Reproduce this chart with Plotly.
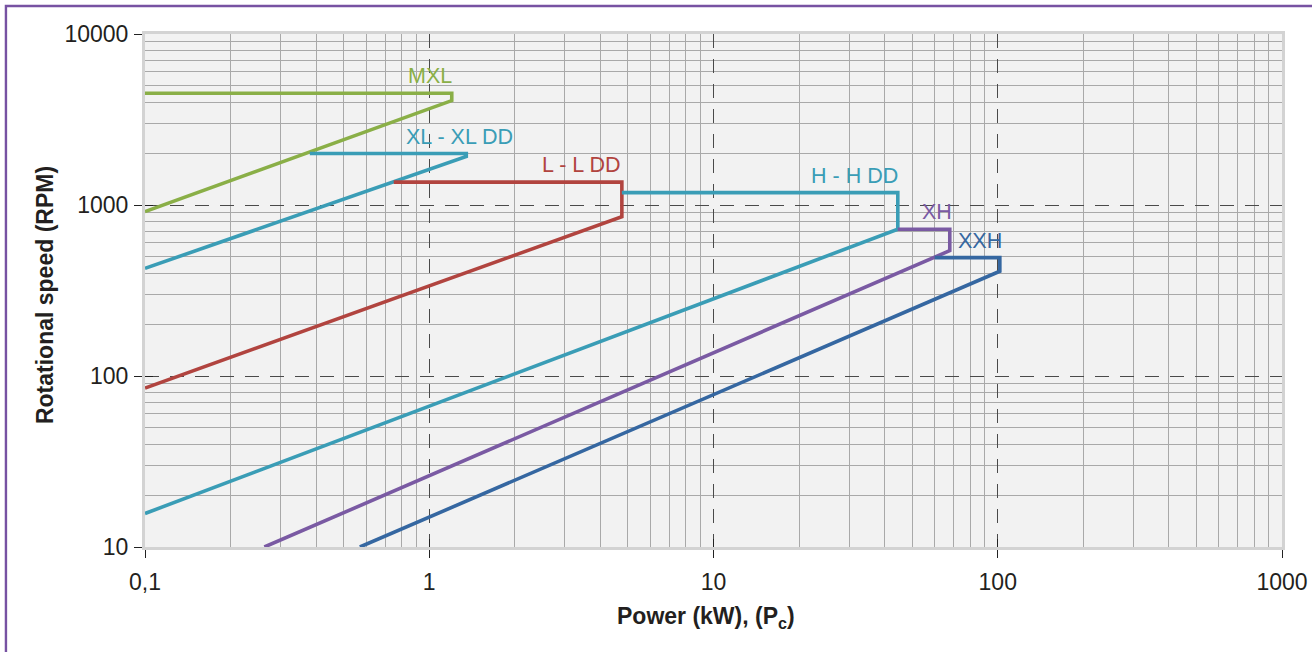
import numpy as np
import plotly.graph_objects as go

# ---------------- data ----------------
belts = ["MXL", "XL - XL DD", "L - L DD", "H - H DD", "XH", "XXH"]
colors = ["#8aaf47", "#3a9db6", "#b1443f", "#3a9db6", "#7a5aa3", "#3567a1"]

# each belt limit curve: start of plateau -> max power -> knee -> low end (power kW)
mxl_power = [0.1, 1.20, 1.20, 0.1]
mxl_rpm = [4500, 4500, 4080, 915]
xl_power = [0.38, 1.35, 1.35, 0.1]
xl_rpm = [2000, 2000, 1920, 426]
l_power = [0.75, 4.76, 4.76, 0.1]
l_rpm = [1360, 1360, 855, 85]
h_power = [4.76, 44.5, 44.5, 0.1]
h_rpm = [1182, 1182, 722, 15.7]
xh_power = [44.5, 67.8, 67.8, 0.263]
xh_rpm = [722, 722, 541, 10]
xxh_power = [60, 101.7, 101.7, 0.57]
xxh_rpm = [492, 492, 410, 10]

series_power = [mxl_power, xl_power, l_power, h_power, xh_power, xxh_power]
series_rpm = [mxl_rpm, xl_rpm, l_rpm, h_rpm, xh_rpm, xxh_rpm]

x_tickvals = [0.1, 1, 10, 100, 1000]
x_ticktext = ["0,1", "1", "10", "100", "1000"]
y_tickvals = [10, 100, 1000, 10000]
y_ticktext = ["10", "100", "1000", "10000"]

# label placement style per belt: (xanchor, xshift)
label_anchor = [("right", 2), ("center", -7), ("right", 0), ("right", 2), ("right", 4), ("right", 4)]

FONT = "Liberation Sans, Arial, Helvetica, sans-serif"
TXT = "#231f20"

minor_x = [m * 10.0 ** e for e in range(-1, 3) for m in range(2, 10)]
minor_y = [m * 10.0 ** e for e in range(1, 4) for m in range(2, 10)]

fig = go.Figure()
for name, p, r, c in zip(belts, series_power, series_rpm, colors):
    fig.add_trace(go.Scatter(x=p, y=r, mode="lines", name=name,
                             line=dict(color=c, width=3.6), showlegend=False,
                             hoverinfo="skip"))

# invisible trace for overlay axes (inside tick marks)
fig.add_trace(go.Scatter(x=[0.1, 1000], y=[10, 10000], xaxis="x2", yaxis="y2",
                         mode="markers", marker=dict(opacity=0), showlegend=False,
                         hoverinfo="skip"))

for name, p, r, c, (xa, xs) in zip(belts, series_power, series_rpm, colors, label_anchor):
    fig.add_annotation(x=np.log10(p[1]), y=np.log10(r[1]), xref="x", yref="y",
                       text=name, showarrow=False, xanchor=xa, yanchor="middle",
                       xshift=xs, yshift=17,
                       font=dict(family=FONT, size=21.5, color=c))

axis_common = dict(
    type="log", showline=True, linecolor="#d3d3d3", linewidth=3, mirror=True,
    showgrid=True, gridcolor="#4a4a4a", gridwidth=1, griddash="14px,11px",
    ticks="outside", ticklen=8, tickwidth=1, tickcolor="#222222",
    tickfont=dict(family=FONT, size=23, color=TXT),
    zeroline=False, automargin=False,
)

fig.update_layout(
    width=1312, height=652,
    margin=dict(l=145, r=30, t=34, b=105, autoexpand=False),
    paper_bgcolor="white", plot_bgcolor="#f2f2f2",
    xaxis=dict(range=[-1, 3], tickmode="array", tickvals=x_tickvals, ticktext=x_ticktext,
               ticklabelstandoff=4,
               minor=dict(tickmode="array", tickvals=minor_x, showgrid=True,
                          gridcolor="#a9a9a9", gridwidth=1, griddash="solid", ticks=""),
               **axis_common),
    yaxis=dict(range=[1, 4], tickmode="array", tickvals=y_tickvals, ticktext=y_ticktext,
               ticklabelstandoff=1,
               minor=dict(tickmode="array", tickvals=minor_y, showgrid=True,
                          gridcolor="#a9a9a9", gridwidth=1, griddash="solid", ticks=""),
               **axis_common),
    xaxis2=dict(type="log", range=[-1, 3], overlaying="x", anchor="y2", side="bottom",
                tickmode="array", tickvals=x_tickvals, ticks="inside", ticklen=8,
                tickwidth=1, tickcolor="#222222", showticklabels=False, automargin=False,
                showgrid=False, showline=False, zeroline=False),
    yaxis2=dict(type="log", range=[1, 4], overlaying="y", anchor="x2", side="left",
                tickmode="array", tickvals=y_tickvals, ticks="inside", ticklen=8,
                tickwidth=1, tickcolor="#222222", showticklabels=False, automargin=False,
                showgrid=False, showline=False, zeroline=False),
)

# axis titles
fig.add_annotation(x=-0.088, y=0.491, xref="paper", yref="paper",
                   text="<b>Rotational speed (RPM)</b>", textangle=-90, showarrow=False,
                   xanchor="center", yanchor="middle",
                   font=dict(family=FONT, size=23, color=TXT))
fig.add_annotation(x=0.4934, y=-0.138, xref="paper", yref="paper",
                   text="<b>Power (kW), (P<sub>c</sub>)</b>", showarrow=False,
                   xanchor="center", yanchor="middle",
                   font=dict(family=FONT, size=23, color=TXT))

# purple frame (left and top edges)
fig.add_shape(type="path", xref="paper", yref="paper",
              path="M -0.1223,-0.3 L -0.1223,1.0546 L 1.1,1.0546",
              line=dict(color="#7752a2", width=2.4), layer="above")

fig.write_html("out.html", config={"displayModeBar": False})

# remove the default browser page margin so the figure sits at the window origin
with open("out.html", "r", encoding="utf-8") as f:
    html = f.read()
html = html.replace("<body>", '<body style="margin:0;padding:0;">', 1)
with open("out.html", "w", encoding="utf-8") as f:
    f.write(html)
